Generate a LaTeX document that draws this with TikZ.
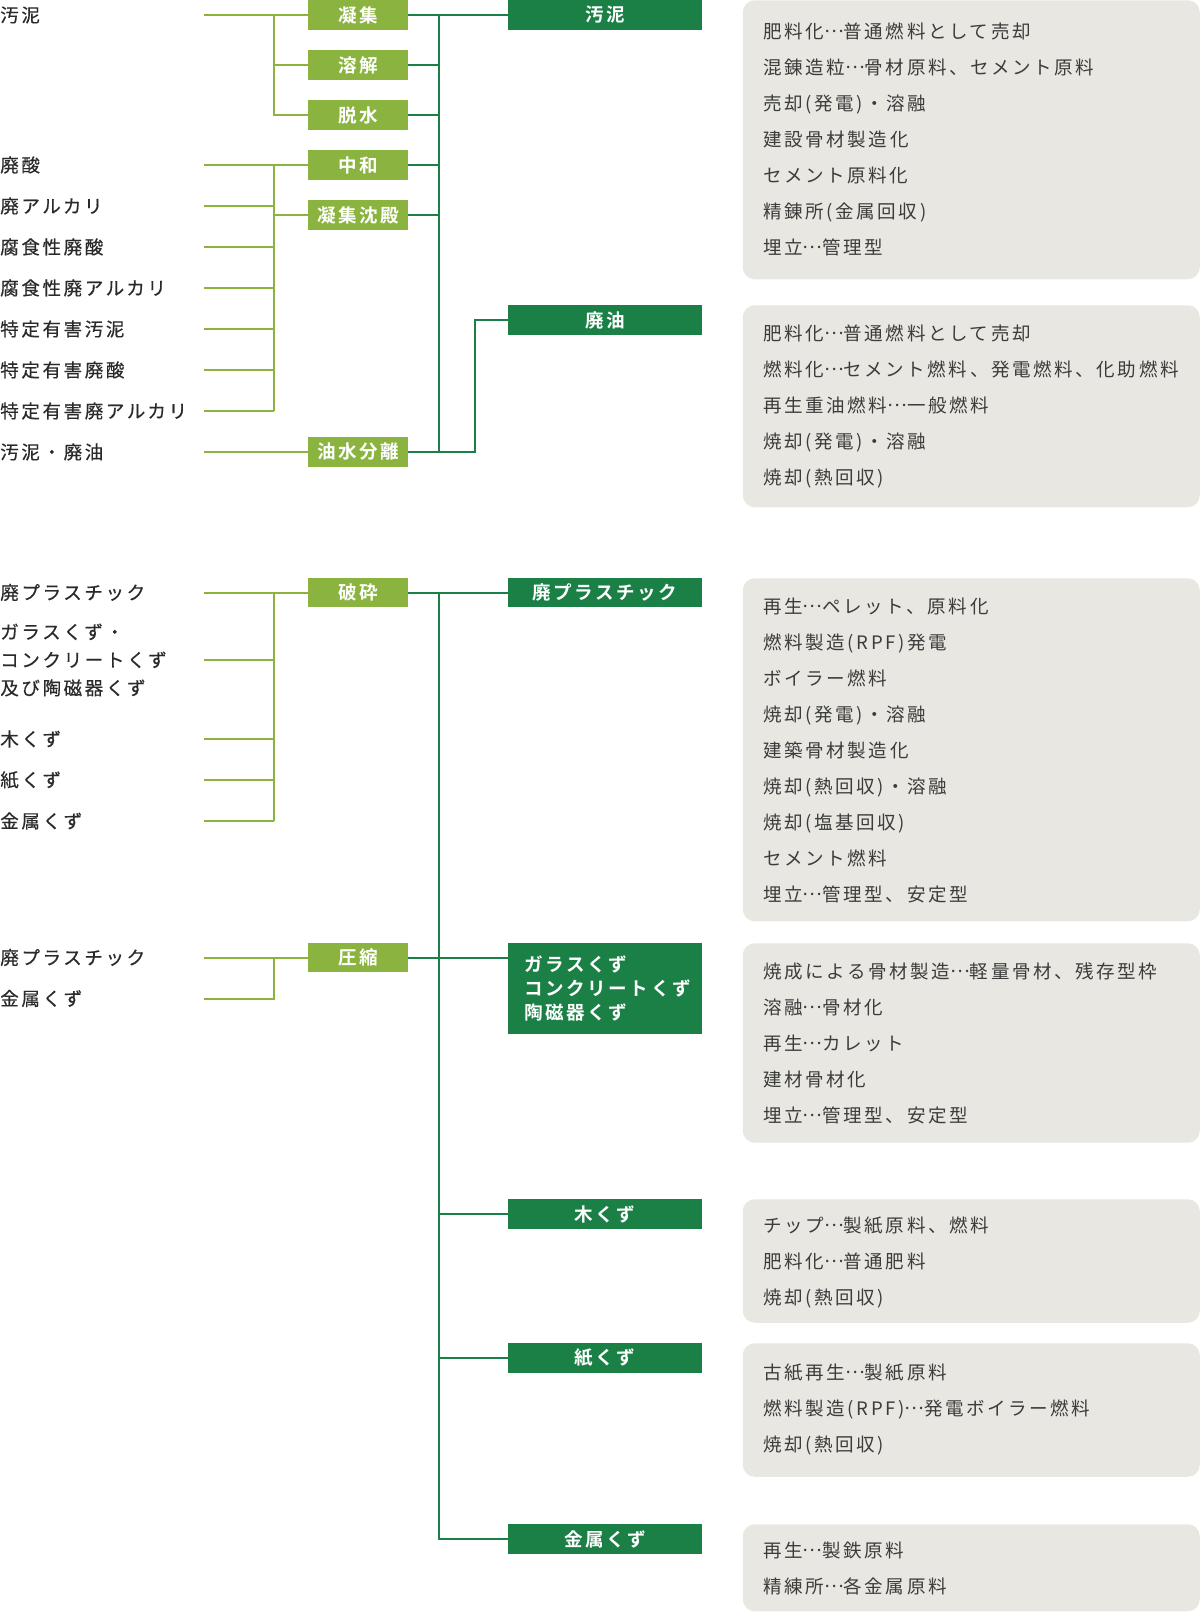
\documentclass[tikz,border=0pt]{standalone}
\usepackage{fontspec}
\newfontfamily\jp[LetterSpace=14,BoldFont={Noto Sans CJK JP Bold}]{Noto Sans CJK JP}
\newfontfamily\jpm[LetterSpace=14,FakeBold=0.5]{Noto Sans CJK JP}
\newcommand\tenten{\raisebox{.33em}{…}}
\usetikzlibrary{calc}
\definecolor{leaf}{HTML}{8AB43F}
\definecolor{forest}{HTML}{1A8045}
\definecolor{panelgray}{HTML}{E8E7E1}
\definecolor{ink}{HTML}{3C3C3C}
\definecolor{label}{HTML}{2A2A2A}

\begin{document}
\begin{tikzpicture}[x=0.75pt,y=-0.75pt,every node/.style={font=\jp\fontsize{13.9}{27}\selectfont,inner sep=0pt},
waste/.style={anchor=west,text width=152.7pt,align=left,text=label,font=\jpm\fontsize{13.9}{21}\selectfont},
proc/.style={fill=leaf,text=white,font=\jp\bfseries\fontsize{13.9}{18}\selectfont,minimum width=75pt,minimum height=22.1pt},
kind/.style={fill=forest,text=white,font=\jp\bfseries\fontsize{13.9}{18}\selectfont,minimum width=145.5pt,minimum height=22.1pt},
panel/.style={fill=panelgray,rounded corners=9pt,anchor=north west,minimum width=342.75pt},
uses/.style={anchor=north west,align=left,text=ink},
feed/.style={draw=leaf,line width=1.5pt},
link/.style={draw=forest,line width=1.5pt}]
\useasboundingbox (0,0) rectangle (1200,1613);
\coordinate (jx) at (273.5,0);
\coordinate (dx) at (439,0);
\coordinate (ox) at (475,0);

\node[waste] (s1) at (0,15) {汚泥};
\node[waste] (s2) at (0,165) {廃酸};
\node[waste] (s3) at (0,206) {廃アルカリ};
\node[waste] (s4) at (0,247) {腐食性廃酸};
\node[waste] (s5) at (0,288) {腐食性廃アルカリ};
\node[waste] (s6) at (0,329) {特定有害汚泥};
\node[waste] (s7) at (0,370) {特定有害廃酸};
\node[waste] (s8) at (0,411) {特定有害廃アルカリ};
\node[waste] (s9) at (0,452) {汚泥・廃油};
\node[waste] (s10) at (0,592.5) {廃プラスチック};
\node[waste] (s11) at (0,660) {ガラスくず・\\コンクリートくず\\及び陶磁器くず};
\node[waste] (s12) at (0,739) {木くず};
\node[waste] (s13) at (0,780) {紙くず};
\node[waste] (s14) at (0,821) {金属くず};
\node[waste] (s15) at (0,957.5) {廃プラスチック};
\node[waste] (s16) at (0,998.5) {金属くず};

\node[proc] (p1) at (358,15) {凝集};
\node[proc] (p2) at (358,65) {溶解};
\node[proc] (p3) at (358,115) {脱水};
\node[proc] (p4) at (358,165) {中和};
\node[proc] (p5) at (358,215) {凝集沈殿};
\node[proc] (p6) at (358,452) {油水分離};
\node[proc] (p7) at (358,592.5) {破砕};
\node[proc] (p8) at (358,957.5) {圧縮};

\node[kind] (k1) at (605,15) {汚泥};
\node[kind] (k2) at (605,320) {廃油};
\node[kind] (k3) at (605,592.5) {廃プラスチック};
\node[kind,anchor=north west,minimum height=67.9pt,inner xsep=12pt,text width=121.5pt,align=left] (k4) at (508,943) {ガラスくず\\コンクリートくず\\陶磁器くず};
\node[kind] (k5) at (605,1214) {木くず};
\node[kind] (k6) at (605,1358) {紙くず};
\node[kind] (k7) at (605,1539) {金属くず};

\node[panel,minimum height=209.25pt] (q1) at (742.5,0) {};
\node[panel,minimum height=151.5pt] (q2) at (742.5,305) {};
\node[panel,minimum height=257.25pt] (q3) at (742.5,578) {};
\node[panel,minimum height=149.6pt] (q4) at (742.5,943) {};
\node[panel,minimum height=92.6pt] (q5) at (742.5,1199) {};
\node[panel,minimum height=100.1pt] (q6) at (742.5,1343) {};
\node[panel,minimum height=65.25pt] (q7) at (742.5,1524) {};

\node[uses] (t1) at (763,22.5) {肥料化\tenten{}普通燃料として売却\\混錬造粒\tenten{}骨材原料、セメント原料\\売却(発電)・溶融\\建設骨材製造化\\セメント原料化\\精錬所(金属回収)\\埋立\tenten{}管理型};
\node[uses] (t2) at (763,324.8) {肥料化\tenten{}普通燃料として売却\\燃料化\tenten{}セメント燃料、発電燃料、化助燃料\\再生重油燃料\tenten{}一般燃料\\焼却(発電)・溶融\\焼却(熱回収)};
\node[uses] (t3) at (763,597.5) {再生\tenten{}ペレット、原料化\\燃料製造(RPF)発電\\ボイラー燃料\\焼却(発電)・溶融\\建築骨材製造化\\焼却(熱回収)・溶融\\焼却(塩基回収)\\セメント燃料\\埋立\tenten{}管理型、安定型};
\node[uses] (t4) at (763,962.5) {焼成による骨材製造\tenten{}軽量骨材、残存型枠\\溶融\tenten{}骨材化\\再生\tenten{}カレット\\建材骨材化\\埋立\tenten{}管理型、安定型};
\node[uses] (t5) at (763,1216.8) {チップ\tenten{}製紙原料、燃料\\肥料化\tenten{}普通肥料\\焼却(熱回収)};
\node[uses] (t6) at (763,1363.3) {古紙再生\tenten{}製紙原料\\燃料製造(RPF)\tenten{}発電ボイラー燃料\\焼却(熱回収)};
\node[uses] (t7) at (763,1541.8) {再生\tenten{}製鉄原料\\精練所\tenten{}各金属原料};

\draw[feed] (s1.east) -- (p1.west);
\draw[feed] (p1.west -| jx) |- (p3.west);
\draw[feed] (p2.west -| jx) -- (p2.west);
\draw[feed] (s2.east) -- (p4.west);
\foreach \n in {3,...,8} \draw[feed] (s\n.east) -- (s\n.east -| jx);
\draw[feed] (s2.east -| jx) -- (s8.east -| jx);
\draw[feed] (p5.west -| jx) -- (p5.west);
\draw[feed] (s9.east) -- (p6.west);
\draw[link] (p1.east) -- (k1.west);
\draw[link] (p1.east -| dx) -- (p6.east -| dx);
\foreach \n in {2,...,5} \draw[link] (p\n.east) -- (p\n.east -| dx);
\draw[link] (p6.east) -| (k2.west -| ox) -- (k2.west);

\draw[feed] (s10.east) -- (p7.west);
\foreach \n in {11,...,14} \draw[feed] (s\n.east) -- (s\n.east -| jx);
\draw[feed] (s10.east -| jx) -- (s14.east -| jx);
\draw[feed] (s15.east) -- (p8.west);
\draw[feed] (s16.east) -| (s15.east -| jx);
\draw[link] (p7.east) -- (k3.west);
\draw[link] (p8.east) -- (p8.east -| k4.west);
\draw[link] (p7.east -| dx) |- (k7.west);
\foreach \n in {5,6} \draw[link] (k\n.west -| dx) -- (k\n.west);
\end{tikzpicture}
\end{document}
